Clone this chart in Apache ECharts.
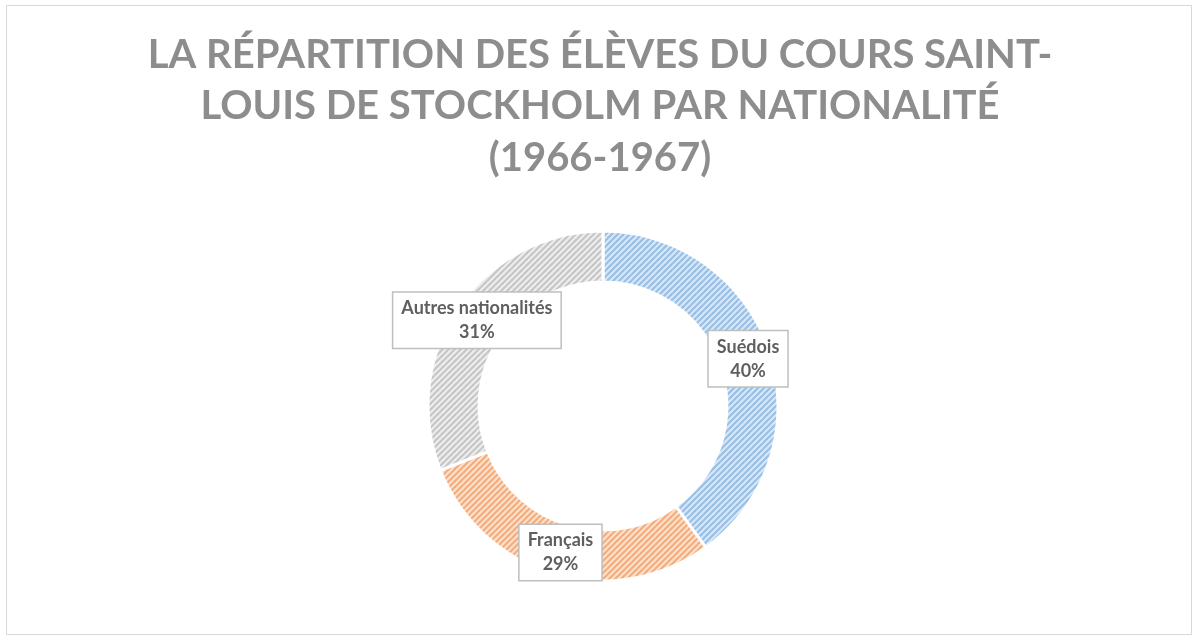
<!DOCTYPE html>
<html><head><meta charset="utf-8">
<script src="https://cdn.jsdelivr.net/npm/echarts@6/dist/echarts.min.js"></script>
<style>
html,body{margin:0;padding:0;background:#fff;}
#frame{position:absolute;left:6px;top:5px;width:1186px;height:630px;border:1.5px solid #d9d9d9;box-sizing:border-box;}
#c{position:absolute;left:0;top:0;width:1200px;height:642px;}
</style></head>
<body><div id="frame"></div><div id="c"></div>
<script>
const titleLines = ['LA RÉPARTITION DES ÉLÈVES DU COURS SAINT-', 'LOUIS DE STOCKHOLM PAR NATIONALITÉ', '(1966-1967)'];
const categories = ['Suédois', 'Français', 'Autres nationalités'];
const values = [40, 29, 31];
const stripeColors = [['#d9e8f6', '#98bfe5'], ['#fbe2cf', '#f2ad7f'], ['#eeeeee', '#c6c6c6']];

function stripe(bg, fg){
  const s = 6;
  const cv = document.createElement('canvas');
  cv.width = s; cv.height = s;
  const ctx = cv.getContext('2d');
  ctx.fillStyle = bg; ctx.fillRect(0,0,s,s);
  ctx.strokeStyle = fg; ctx.lineWidth = 2.2;
  for (const o of [-s, 0, s]) {
    ctx.beginPath(); ctx.moveTo(o - 1, s + 1); ctx.lineTo(o + s + 1, -1); ctx.stroke();
  }
  return {image: cv, repeat: 'repeat'};
}

const chart = echarts.init(document.getElementById('c'));
chart.setOption({
  animation: false,
  title: {
    text: titleLines.join('\n'),
    left: 'center', top: 24,
    textStyle: {fontFamily: 'Lato', fontWeight: 'bold', fontSize: 40, lineHeight: 51.5, color: '#8d8d8d'}
  },
  series: [{
    type: 'pie',
    center: [603, 406],
    radius: [124, 175],
    startAngle: 90,
    clockwise: true,
    avoidLabelOverlap: false,
    itemStyle: {borderColor: '#ffffff', borderWidth: 3},
    label: {
      show: true, position: 'inside',
      formatter: p => p.name + '\n' + p.percent.toFixed(0) + '%',
      fontFamily: 'Lato', fontWeight: 'bold', fontSize: 18, lineHeight: 24, color: '#5f5f5f',
      backgroundColor: '#ffffff', borderColor: '#bfbfbf', borderWidth: 1.5,
      padding: [5, 8, 2, 8]
    },
    labelLine: {show: false},
    data: categories.map((n, i) => ({name: n, value: values[i], itemStyle: {color: stripe(stripeColors[i][0], stripeColors[i][1])}}))
  }]
});
</script></body></html>
